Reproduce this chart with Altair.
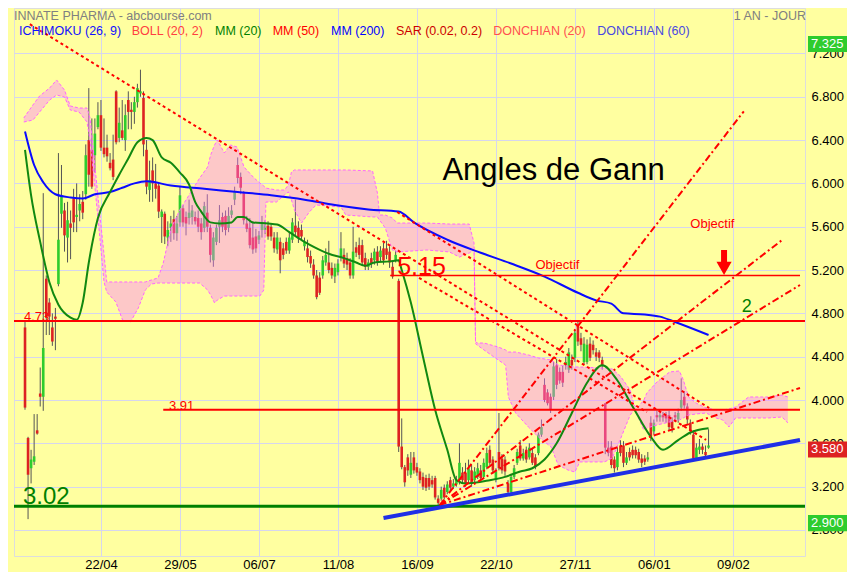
import json
import altair as alt
import pandas as pd

# ---------------- candle data (bar index 0..225) ----------------
opens = [4.67,3.65,3.37,3.43,3.72,4.06,4.03,5.12,4.90,4.67,
         4.77,5.07,5.72,5.75,5.50,5.63,5.86,5.69,5.75,5.83,
         5.90,6.40,6.31,6.26,6.52,6.63,6.33,6.33,6.19,6.22,
         6.85,6.42,6.49,6.40,6.77,6.68,6.66,6.75,6.83,6.79,
         6.31,5.94,6.12,6.00,5.98,5.69,5.72,5.50,5.59,5.67,
         5.54,5.64,5.77,5.69,5.68,5.69,5.69,5.68,5.63,5.59,
         5.73,5.59,5.29,5.46,5.60,5.69,5.70,5.59,5.71,5.85,
         6.17,6.06,5.91,5.63,5.59,5.50,5.51,5.48,5.57,5.57,
         5.61,5.60,5.50,5.39,5.46,5.40,5.46,5.38,5.48,5.61,
         5.59,5.57,5.42,5.40,5.33,5.25,5.15,5.13,5.15,5.27,
         5.27,5.22,5.14,5.18,5.32,5.34,5.31,5.27,5.15,5.41,
         5.43,5.43,5.31,5.23,5.31,5.29,5.37,5.32,5.40,5.40,
         5.37,5.23,5.29,5.10,
         3.57,3.38,3.47,3.31,3.47,3.38,
         3.34,3.29,3.28,3.28,3.26,3.28,3.09,3.09,3.19,3.15,
         3.26,3.20,3.22,3.26,3.33,3.33,3.26,3.35,3.26,3.29,
         3.35,3.29,3.38,3.54,3.45,3.26,3.52,3.46,3.45,3.23,
         3.15,3.29,3.42,3.58,3.46,3.54,3.47,3.51,3.47,3.51,
         3.68,4.14,4.07,4.03,4.03,4.32,4.26,4.26,4.32,4.28,
         4.37,4.39,4.69,4.57,4.35,4.35,4.52,4.51,4.44,4.44,
         4.37,3.97,3.56,3.57,3.45,3.38,3.58,3.58,3.42,3.52,
         3.54,3.54,3.52,3.46,3.46,3.45,3.79,3.71,3.86,3.84,
         3.86,3.86,3.86,3.80,3.86,3.82,3.93,4.03,3.94,3.79,
         3.68,3.46,3.54,3.57,3.52,3.56]
highs = [4.72,3.66,3.54,3.87,3.87,4.30,5.91,5.15,4.94,4.80,
         4.85,6.28,6.17,5.82,5.83,5.75,5.95,6.00,5.90,5.93,
         6.36,6.88,6.60,6.60,6.75,6.77,6.60,6.45,6.28,6.45,
         6.86,6.70,6.77,6.73,6.85,6.75,6.80,6.92,7.05,6.85,
         6.40,6.21,6.24,6.18,6.00,5.76,5.74,5.65,5.70,5.75,
         5.70,5.97,5.80,5.74,5.85,5.80,5.74,5.75,5.68,5.83,
         5.90,5.62,5.55,5.62,5.80,5.73,5.75,5.78,5.80,5.97,
         6.24,6.10,5.93,5.70,5.68,5.65,5.58,5.56,5.70,5.66,
         5.65,5.63,5.55,5.55,5.50,5.45,5.50,5.55,5.68,5.85,
         5.65,5.62,5.50,5.48,5.38,5.30,5.20,5.18,5.33,5.40,
         5.47,5.27,5.26,5.30,5.55,5.40,5.36,5.31,5.60,5.46,
         5.50,5.48,5.36,5.30,5.36,5.40,5.42,5.42,5.45,5.47,
         5.42,5.28,5.38,5.12,
         3.83,3.40,3.50,3.52,3.52,3.42,
         3.37,3.33,3.31,3.32,3.30,3.30,3.12,3.20,3.22,3.25,
         3.29,3.27,3.30,3.60,3.38,3.42,3.45,3.40,3.38,3.42,
         3.40,3.46,3.56,3.58,3.48,3.37,3.88,3.50,3.48,3.26,
         3.32,3.40,3.55,3.63,3.55,3.57,3.60,3.55,3.50,3.70,
         3.82,4.20,4.10,4.06,4.35,4.38,4.30,4.32,4.40,4.48,
         4.42,4.65,4.73,4.62,4.58,4.56,4.58,4.55,4.48,4.46,
         4.40,3.97,3.62,3.62,3.48,3.56,3.63,3.62,3.52,3.56,
         3.58,3.57,3.55,3.50,3.49,3.52,3.85,3.82,3.90,3.90,
         3.89,3.89,3.90,3.84,3.89,3.92,4.20,4.08,3.97,3.82,
         3.72,3.60,3.64,3.60,3.58,3.73]
lows = [3.91,2.90,3.23,3.40,3.68,3.94,3.90,4.60,4.60,4.50,
        4.46,5.05,5.59,5.37,5.27,5.30,5.55,5.55,5.65,5.67,
        5.85,5.97,5.95,6.10,6.50,6.30,6.24,6.20,6.12,6.03,
        6.36,6.38,6.40,6.30,6.50,6.50,6.55,6.70,6.80,6.25,
        5.90,5.83,5.83,5.86,5.68,5.45,5.44,5.42,5.46,5.48,
        5.47,5.60,5.60,5.52,5.62,5.62,5.62,5.55,5.48,5.55,
        5.55,5.27,5.23,5.43,5.45,5.55,5.52,5.55,5.68,5.80,
        6.00,5.90,5.62,5.55,5.40,5.35,5.36,5.44,5.50,5.53,
        5.48,5.47,5.36,5.35,5.17,5.30,5.35,5.35,5.45,5.52,
        5.45,5.47,5.38,5.27,5.22,5.12,4.93,4.97,5.12,5.24,
        5.17,5.12,5.08,5.15,5.28,5.22,5.20,5.12,5.12,5.32,
        5.30,5.24,5.20,5.20,5.22,5.25,5.24,5.28,5.25,5.30,
        5.22,5.12,5.27,3.52,
        3.36,3.20,3.30,3.28,3.32,3.30,
        3.23,3.17,3.16,3.17,3.19,3.08,3.03,3.07,3.08,3.13,
        3.16,3.18,3.20,3.22,3.23,3.20,3.24,3.20,3.24,3.27,
        3.25,3.27,3.36,3.40,3.32,3.24,3.35,3.32,3.30,3.13,
        3.13,3.27,3.40,3.44,3.44,3.42,3.45,3.40,3.36,3.49,
        3.66,3.98,3.95,3.88,4.00,4.10,4.15,4.12,4.28,4.25,
        4.28,4.35,4.50,4.45,4.33,4.33,4.36,4.42,4.36,4.35,
        4.28,3.50,3.48,3.37,3.33,3.35,3.48,3.38,3.40,3.44,
        3.46,3.46,3.42,3.38,3.40,3.43,3.62,3.68,3.80,3.80,
        3.80,3.79,3.72,3.70,3.80,3.79,3.90,3.92,3.78,3.68,
        3.44,3.44,3.50,3.50,3.46,3.55]
closes = [3.93,3.31,3.45,3.48,3.69,4.03,4.48,4.76,4.77,4.54,
          4.75,5.48,5.89,5.52,5.66,5.59,5.64,5.71,5.81,5.73,
          6.26,6.08,5.97,6.46,6.63,6.33,6.27,6.25,6.14,6.06,
          6.38,6.56,6.42,6.63,6.66,6.66,6.75,6.88,6.85,6.36,
          5.97,6.03,6.00,5.95,5.74,5.74,5.51,5.57,5.63,5.54,
          5.63,5.89,5.64,5.63,5.73,5.75,5.65,5.60,5.55,5.79,
          5.60,5.34,5.50,5.59,5.66,5.60,5.57,5.70,5.75,5.92,
          6.05,5.96,5.66,5.58,5.43,5.39,5.40,5.52,5.63,5.61,
          5.51,5.51,5.40,5.50,5.29,5.34,5.38,5.50,5.64,5.55,
          5.50,5.51,5.46,5.32,5.26,5.15,4.95,4.99,5.29,5.34,
          5.20,5.15,5.22,5.26,5.40,5.26,5.25,5.15,5.37,5.36,
          5.34,5.27,5.23,5.27,5.26,5.37,5.27,5.38,5.29,5.34,
          5.27,5.14,5.34,3.57,
          3.38,3.24,3.35,3.42,3.35,3.33,
          3.26,3.20,3.19,3.20,3.22,3.10,3.05,3.17,3.10,3.22,
          3.19,3.23,3.26,3.42,3.26,3.23,3.37,3.23,3.34,3.37,
          3.28,3.42,3.51,3.42,3.35,3.34,3.37,3.35,3.34,3.15,
          3.29,3.37,3.52,3.46,3.51,3.45,3.56,3.42,3.38,3.68,
          3.75,4.00,3.97,3.91,4.31,4.14,4.18,4.16,4.35,4.44,
          4.32,4.62,4.54,4.51,4.52,4.51,4.39,4.46,4.40,4.39,
          4.32,3.56,3.51,3.40,3.37,3.52,3.51,3.42,3.47,3.47,
          3.49,3.49,3.45,3.42,3.43,3.47,3.66,3.79,3.84,3.86,
          3.84,3.83,3.75,3.74,3.84,3.88,4.00,3.95,3.82,3.72,
          3.46,3.56,3.57,3.54,3.49,3.58]

# ---------------- moving averages (read at vertices) ----------------
mm20_i = [0,2,5,8,11,15,17,19,21,24,28,31,34,37,40,42,45,48,51,54,56,58,61,64,68,70,72,75,80,83,
          87,92,96,100,105,109,112,115,120,123,124,127,131,135,139,142,145,153,158,163,167,171,175,
          180,185,190,195,200,206,210,215,219,225]
mm20_v = [6.31,5.89,5.46,5.09,4.88,4.76,4.74,4.90,5.27,5.68,5.92,6.08,6.23,6.38,6.42,6.40,6.24,6.19,
          6.10,5.99,5.83,5.74,5.64,5.63,5.64,5.69,5.69,5.64,5.63,5.62,5.55,5.46,5.40,5.35,5.31,5.27,
          5.24,5.27,5.28,5.29,5.20,4.90,4.40,3.91,3.54,3.26,3.23,3.26,3.29,3.34,3.37,3.45,3.60,3.88,
          4.16,4.32,4.18,3.94,3.66,3.54,3.63,3.70,3.74]
mm200_i = [0,3,6,10,15,19,23,28,32,36,40,48,59,70,81,92,102,113,123,128,139,150,160,171,182,188,
           193,197,204,209,214,225]
mm200_v = [6.48,6.17,6.01,5.90,5.87,5.86,5.90,5.92,5.96,6.00,6.02,5.98,5.95,5.92,5.89,5.85,5.80,5.76,
           5.74,5.64,5.48,5.36,5.26,5.14,4.99,4.92,4.89,4.80,4.79,4.77,4.72,4.60]

# ---------------- Ichimoku cloud ----------------
cloud_i = [-0.4,2.6,4.8,8.1,10.4,13.0,14.9,17.8,20.4,21.4,22.7,24.3,26.0,26.9,29.9,32.1,34.7,37.3,
           39.6,41.6,43.8,45.5,48.1,51.3,53.6,57.5,60.1,61.1,62.4,63.3,65.6,67.6,69.8,72.1,75.4,
           77.3,78.6,79.3,82.8,85.4,86.7,87.7,88.7,91.0,93.6,95.8,104.0,105.6,114.4,116.0,116.7,
           118.6,120.9,122.5,132.3,139.7,143.0,146.2,147.8,148.3,148.8,151.1,155.8,158.2,159.1,
           161.5,165.7,169.0,173.2,175.5,178.7,181.0,182.6,190.7,193.3,196.0,199.2,200.5,201.5,
           203.7,204.7,208.0,212.2,215.4,216.7,218.4,220.9,224.2,227.5,229.7,231.7,233.9,238.2,
           244.7,249.2,251.1]
cloud_top = [6.604,6.724,6.807,6.881,6.955,6.862,6.715,6.696,6.696,6.604,6.244,5.801,5.348,5.090,
             5.090,5.090,5.090,5.090,5.090,5.108,5.127,5.265,5.588,5.773,5.874,6.050,6.151,6.262,
             6.355,6.401,6.281,6.355,6.336,6.151,6.050,6.004,5.976,5.957,5.939,5.939,5.985,6.105,
             6.124,6.124,6.124,6.124,6.124,6.124,6.115,5.911,5.708,5.708,5.681,5.634,5.634,5.625,
             5.625,5.625,5.450,4.540,4.526,4.526,4.489,4.462,4.443,4.443,4.416,4.388,4.369,4.323,
             4.314,4.305,4.305,4.295,4.286,4.220,4.092,3.954,3.926,4.000,4.065,4.166,4.259,4.268,
             4.185,4.028,3.972,3.926,3.908,3.908,3.917,3.935,4.028,4.028,4.046,4.028]
cloud_bot = [6.567,6.585,6.659,6.770,6.816,6.798,6.678,6.659,6.567,6.401,6.050,5.597,5.090,4.997,
             4.905,4.739,4.720,4.850,5.016,5.071,5.080,5.080,5.080,5.080,5.080,5.080,5.016,4.970,
             4.896,4.923,4.960,4.960,4.960,4.960,4.960,4.960,5.016,5.828,5.828,5.893,5.921,5.847,
             5.754,5.634,5.736,5.801,5.782,5.708,5.690,5.690,5.662,5.588,5.385,5.367,5.385,5.367,
             5.320,5.357,5.385,4.520,4.508,4.462,4.369,4.323,4.028,3.880,3.751,3.658,3.566,3.400,
             3.354,3.335,3.428,3.428,3.464,3.640,3.861,3.908,3.861,3.723,3.741,3.769,3.797,3.815,
             3.834,3.861,3.871,3.880,3.834,3.815,3.751,3.834,3.834,3.834,3.843,3.788]

# ---------------- axes ----------------
tick_idx = [25, 51, 77, 103, 129, 155, 181, 207, 233]
tick_lbl = ['22/04', '29/05', '06/07', '11/08', '16/09', '22/10', '27/11', '06/01', '09/02']
price_ticks = [2.8, 3.2, 3.6, 4.0, 4.4, 4.8, 5.2, 5.6, 6.0, 6.4, 6.8, 7.2]

# ---------------- drawn lines (bar index, price) ----------------
dot_i0 = [1.6, 122.5, 129.7]
dot_v0 = [7.47, 5.736, 5.127]
dot_i1 = [224.2, 225.2, 204.7]
dot_v1 = [3.631, 3.926, 3.889]

fan_i0, fan_v0 = 136.5, 3.03
fan_i1 = [236.6, 249.2, 255.1, 255.1]
fan_v1 = [6.666, 5.477, 5.062, 4.111]

support_i = [118.0, 255.1]
support_v = [2.91, 3.631]

full_levels = [3.02, 4.73]
full_colors = ['#008000', '#ff0000']
full_widths = [3, 2]
part_levels = [3.91, 5.15]
part_start = [45.5, 120.2]
part_widths = [2, 1.5]

ann_text = ['3.02', '4.73', '3.91', '5.15', 'Objectif', 'Objectif', 'Angles de Gann', '2']
ann_i = [-0.7, -0.36, 47.4, 122.5, 168.0, 219.0, 137.4, 235.9]
ann_v = [3.02, 4.73, 3.91, 5.15, 5.15, 5.59, 6.03, 4.81]
ann_size = [24, 13, 13, 25, 13, 13, 31, 18]
ann_color = ['#008000', '#ff0000', '#ff0000', '#ff0000', '#ff0000', '#ff0000', '#000000', '#008000']
ann_dy = [-2, 0, 0, 0, -6, 0, 0, 0]

arrow_i = 230.1
arrow_top, arrow_mid, arrow_head = 5.385, 5.27, 5.215

box_lbl = ['7.325', '3.580', '2.900']
box_val = [7.325, 3.58, 2.90]
box_col = ['#008000', '#3a6cff', '#b00000']

legend_txt = ['ICHIMOKU (26, 9)', 'BOLL (20, 2)', 'MM (20)', 'MM (50)', 'MM (200)',
              'SAR (0.02, 0.2)', 'DONCHIAN (20)', 'DONCHIAN (60)']
legend_col = ['#1010ff', '#ff4040', '#008000', '#ff0000', '#0000ff', '#cc0000', '#ff5050', '#4848e0']
legend_x = [5, 117.7, 201, 258.7, 317, 382, 479.3, 583.3]

# ---------------- build ----------------
FONT = 'Liberation Sans'
GRID = '#d6d6ee'
xs = alt.Scale(domain=[-1.98, 255.1], nice=False, zero=False)
ys = alt.Scale(domain=[2.5596, 7.6196], nice=False, zero=False)

label_expr = f"{json.dumps(tick_lbl)}[indexof({json.dumps(tick_idx)}, datum.value)]"
x_axis = alt.Axis(values=tick_idx, labelExpr=label_expr, grid=True, gridColor=GRID, ticks=False,
                  domain=False, labelFontSize=13, labelColor='#000000', labelFont=FONT,
                  labelPadding=2, title=None, labelFlush=False)
y_axis = alt.Axis(orient='right', values=price_ticks, format='.3f', grid=True, gridColor=GRID,
                  ticks=False, domain=False, labelFontSize=13, labelColor='#000000',
                  labelFont=FONT, labelPadding=6, title=None)


def X(f='i'):
    return alt.X(f'{f}:Q', scale=xs, axis=x_axis)


def Y(f='v'):
    return alt.Y(f'{f}:Q', scale=ys, axis=y_axis)


candles = pd.DataFrame({'i': list(range(len(closes))), 'open': opens, 'high': highs,
                        'low': lows, 'close': closes})
candles['dir'] = ['up' if c >= o else 'down' for o, c in zip(opens, closes)]

layers = []
layers.append(alt.Chart(candles).mark_rule(color='#555555', strokeWidth=1).encode(
    x=X(), y=Y('low'), y2='high:Q'))
layers.append(alt.Chart(candles).mark_bar(size=2.6).encode(
    x=X(), y=Y('open'), y2='close:Q',
    color=alt.Color('dir:N', scale=alt.Scale(domain=['up', 'down'], range=['#2ecc2e', '#dd2222']),
                    legend=None)))

cloud = pd.DataFrame({'i': cloud_i, 'top': cloud_top, 'bot': cloud_bot})
layers.append(alt.Chart(cloud).mark_area(color='#fa7dff', opacity=0.42).encode(
    x=X(), y=Y('top'), y2='bot:Q'))
for f in ['top', 'bot']:
    layers.append(alt.Chart(cloud).mark_line(color='#ff66ff', strokeWidth=1, strokeDash=[3, 2]).encode(
        x=X(), y=Y(f)))

layers.append(alt.Chart(pd.DataFrame({'i': mm200_i, 'v': mm200_v})).mark_line(
    color='#0a0aff', strokeWidth=2, interpolate='monotone').encode(x=X(), y=Y()))
layers.append(alt.Chart(pd.DataFrame({'i': mm20_i, 'v': mm20_v})).mark_line(
    color='#118811', strokeWidth=2, interpolate='monotone').encode(x=X(), y=Y()))

# horizontal levels
for lv, c, w in zip(full_levels, full_colors, full_widths):
    layers.append(alt.Chart(pd.DataFrame({'v': [lv]})).mark_rule(color=c, strokeWidth=w).encode(y=Y()))
for lv, s, w in zip(part_levels, part_start, part_widths):
    layers.append(alt.Chart(pd.DataFrame({'i': [s], 'i2': [255.1], 'v': [lv]})).mark_rule(
        color='#ff0000', strokeWidth=w).encode(x=X(), x2='i2:Q', y=Y()))

# dotted down-trend lines
rows = []
for k in range(len(dot_i0)):
    rows.append({'n': k, 'i': dot_i0[k], 'v': dot_v0[k]})
    rows.append({'n': k, 'i': dot_i1[k], 'v': dot_v1[k]})
layers.append(alt.Chart(pd.DataFrame(rows)).mark_line(
    color='#ff0000', strokeWidth=2, strokeDash=[3, 3], clip=True).encode(
    x=X(), y=Y(), detail='n:N'))

# Gann fan
rows = []
for k in range(len(fan_i1)):
    rows.append({'n': k, 'i': fan_i0, 'v': fan_v0})
    rows.append({'n': k, 'i': fan_i1[k], 'v': fan_v1[k]})
layers.append(alt.Chart(pd.DataFrame(rows)).mark_line(
    color='#ff0000', strokeWidth=2, strokeDash=[7, 3, 2, 3], clip=True).encode(
    x=X(), y=Y(), detail='n:N'))

# support line
layers.append(alt.Chart(pd.DataFrame({'i': support_i, 'v': support_v})).mark_line(
    color='#1f2fe6', strokeWidth=4, clip=True).encode(x=X(), y=Y()))

# annotations
for t, i, v, s, c, dy in zip(ann_text, ann_i, ann_v, ann_size, ann_color, ann_dy):
    layers.append(alt.Chart(pd.DataFrame({'i': [i], 'v': [v], 't': [t]})).mark_text(
        align='left', baseline='alphabetic', dy=dy, fontSize=s, color=c, font=FONT).encode(
        x=X(), y=Y(), text='t:N'))

# arrow
layers.append(alt.Chart(pd.DataFrame({'i': [arrow_i], 'v': [arrow_top], 'v2': [arrow_mid]})).mark_rule(
    color='#ff0000', strokeWidth=6).encode(x=X(), y=Y(), y2='v2:Q'))
layers.append(alt.Chart(pd.DataFrame({'i': [arrow_i], 'v': [arrow_head]})).mark_point(
    shape='triangle-down', filled=True, size=230, color='#ff0000', opacity=1).encode(x=X(), y=Y()))

# price boxes on the right
boxes = pd.DataFrame({'lbl': box_lbl, 'v': box_val,
                      'top': [b + 0.074 for b in box_val], 'bot': [b - 0.074 for b in box_val]})
layers.append(alt.Chart(boxes).mark_rect(yOffset=4, y2Offset=4).encode(
    x=alt.value(794), x2=alt.value(840), y=Y('top'), y2='bot:Q',
    color=alt.Color('lbl:N', scale=alt.Scale(domain=box_lbl, range=box_col), legend=None)))
layers.append(alt.Chart(boxes).mark_text(align='left', baseline='middle', dy=4, fontSize=13,
                                         color='#ffffff', font=FONT).encode(
    x=alt.value(797), y=Y('v'), text='lbl:N'))

# header and legend row
layers.append(alt.Chart(pd.DataFrame({'t': ['INNATE PHARMA - abcbourse.com']})).mark_text(
    align='left', baseline='middle', fontSize=12.5, color='#808080', font=FONT).encode(
    x=alt.value(0), y=alt.value(8), text='t:N'))
layers.append(alt.Chart(pd.DataFrame({'t': ['1 AN - JOUR']})).mark_text(
    align='right', baseline='middle', fontSize=12.5, color='#808080', font=FONT).encode(
    x=alt.value(792), y=alt.value(8), text='t:N'))
for t, c, px in zip(legend_txt, legend_col, legend_x):
    layers.append(alt.Chart(pd.DataFrame({'t': [t]})).mark_text(
        align='left', baseline='middle', fontSize=12.5, color=c, font=FONT).encode(
        x=alt.value(px), y=alt.value(23), text='t:N'))

chart = alt.layer(*layers).properties(
    width=791, height=548,
    autosize=alt.AutoSizeParams(type='none'),
    padding={'left': 6, 'top': 0, 'right': 42, 'bottom': 16},
    background='#ffffa0',
).configure_view(strokeWidth=0).configure(font=FONT)

chart.save("out.html", embed_options={"renderer": "svg", "actions": False})
